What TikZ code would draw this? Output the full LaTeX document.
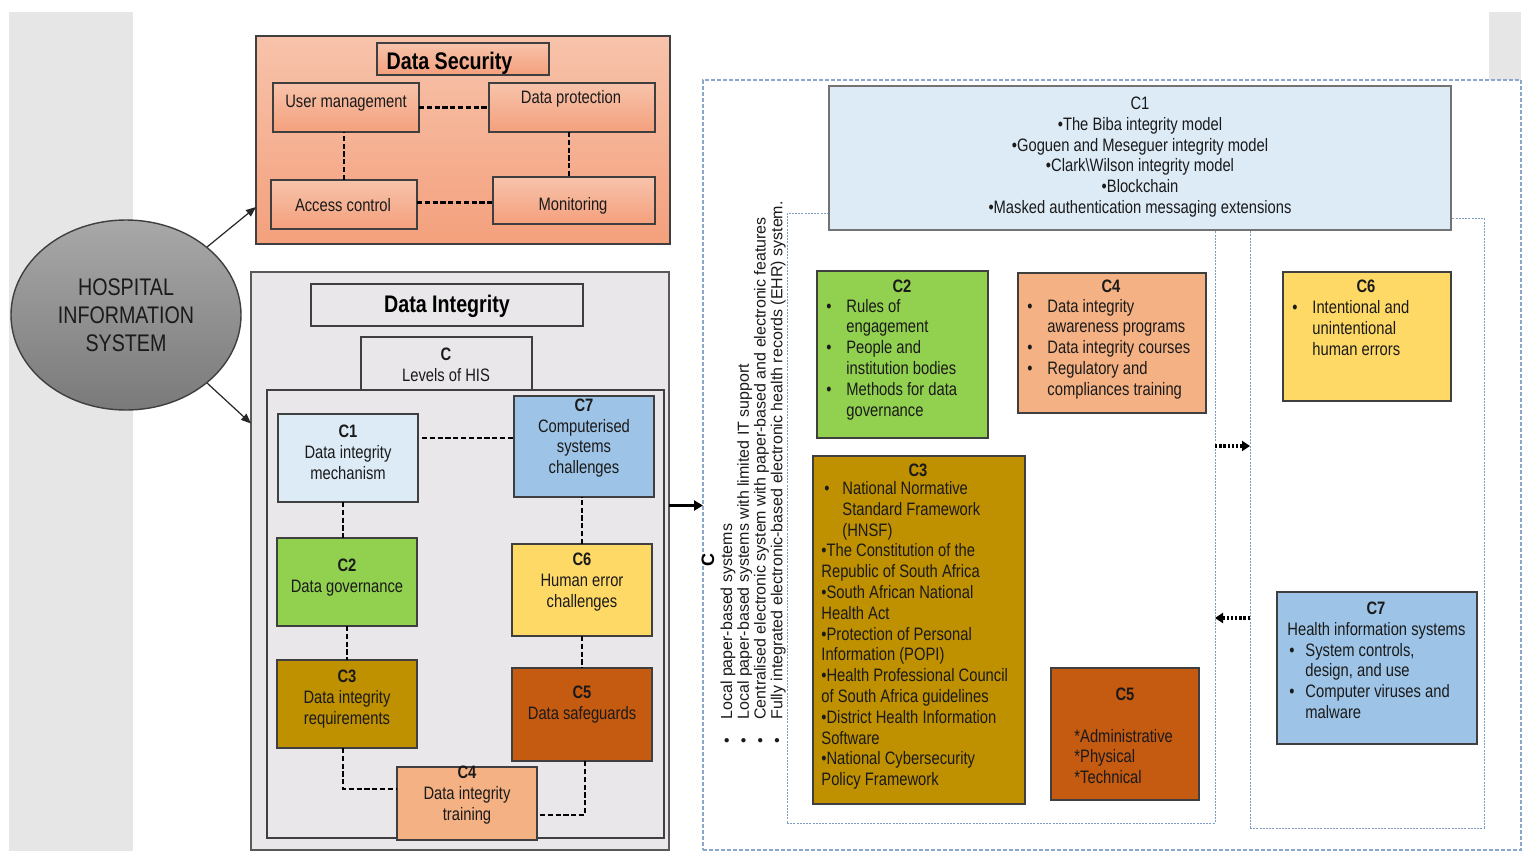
\documentclass[tikz,border=0pt]{standalone}
\usepackage{fontspec}
\setmainfont{Liberation Sans}
\newfontfamily\nar[FakeStretch=0.82]{Liberation Sans}
\usetikzlibrary{fit,arrows.meta,shapes.geometric}
\setlength\parindent{0pt}

\definecolor{stripgray}{HTML}{E6E6E6}
\definecolor{salTop}{HTML}{F7C3AB}
\definecolor{salBot}{HTML}{F4A07C}
\definecolor{digray}{HTML}{E9E7E9}
\definecolor{bdr}{HTML}{3F3F3F}
\definecolor{cPale}{HTML}{DDEBF7}
\definecolor{cBlue}{HTML}{9DC3E6}
\definecolor{cGreen}{HTML}{92D050}
\definecolor{cYellow}{HTML}{FFD966}
\definecolor{cGold}{HTML}{BF9000}
\definecolor{cRust}{HTML}{C55A11}
\definecolor{cPeach}{HTML}{F4B183}
\definecolor{frameblue}{HTML}{7F9DC6}
\definecolor{hisTop}{HTML}{A8A8A8}
\definecolor{hisBot}{HTML}{7A7A7A}
\definecolor{ink}{HTML}{1A1A1A}

\newcommand\blt{\makebox[10pt][l]{•}}
\newcommand\hangsp{\hspace*{10pt}}

\tikzset{
  bx/.style={draw=bdr, line width=0.7pt, inner sep=0pt, outer sep=0pt},
  sal/.style={top color=salTop, bottom color=salBot},
  frm/.style={draw=frameblue, line width=0.5pt, dash pattern=on 1pt off 0.6pt, inner sep=0pt, outer sep=0pt},
  tx/.style={font=\nar\fontsize{9}{10.4}\selectfont, text=ink, inner sep=0pt, align=center, yshift=-1pt},
  hd/.style={font=\nar\bfseries\fontsize{9}{10.4}\selectfont, text=ink, inner sep=0pt, yshift=-0.5pt},
  lst/.style={font=\nar\fontsize{9}{10.4}\selectfont, text=ink, inner sep=0pt, align=left, anchor=west, yshift=-1pt},
  ttl/.style={font=\nar\bfseries\fontsize{12}{14}\selectfont, text=black, inner sep=0pt, yshift=-1.3pt},
  dsh/.style={draw=black, line width=1.1pt, dash pattern=on 2.6pt off 1.3pt},
  thinarr/.style={draw=black!85, line width=0.6pt, -{Triangle[length=5pt,width=4pt]}},
  thickarr/.style={draw=black, line width=1.5pt, -{Triangle[length=4.5pt,width=5pt]}},
  dotarr/.style={draw=black, line width=2pt, dash pattern=on 1.2pt off 0.9pt, -{Triangle[length=4pt,width=5pt]}}
}

\begin{document}
\begin{tikzpicture}[x=0.5pt,y=-0.5pt]
\useasboundingbox (0,0) rectangle (1529,851);
\fill[white] (0,0) rectangle (1529,851);

% side strips
\fill[stripgray] (9,12) rectangle (133,851);
\fill[stripgray] (1489,12) rectangle (1521,80);

% ---------------- Data security ----------------
\node[bx, sal, fit={(256,36) (670,244)}] (ds) {};
\node[bx, sal, fit={(377,43) (549,75)}] (dstitle) {};
\node[ttl] (dstxt) at (449.5,61) {Data Security};
\node[bx, sal, fit={(273,83) (419,132)}] (um) {};
\node[tx] (umt) at (346,101) {User management};
\node[bx, sal, fit={(489,83) (655,132)}] (dp) {};
\node[tx] (dpt) at (571,97) {Data protection};
\node[bx, sal, fit={(271,180) (417,229)}] (ac) {};
\node[tx] (act) at (343,203) {Access control};
\node[bx, sal, fit={(493,177) (655,224)}] (mon) {};
\node[tx] (mont) at (573,204) {Monitoring};

\draw[dsh] (um.east) -- (dp.west);
\draw[dsh] (ac.north) -- (ac.north |- um.south);
\coordinate (dpb) at ([xshift=-1.5pt]dp.south);
\draw[dsh] (dpb) -- (dpb |- mon.north);
\coordinate (acr) at ([yshift=1pt]ac.east);
\draw[dsh] (acr) -- (acr -| mon.west);

% ---------------- Hospital information system ----------------
\node[ellipse, draw=bdr, line width=0.7pt, top color=hisTop, bottom color=hisBot,
      minimum width=115pt, minimum height=95pt, inner sep=0pt, align=center,
      font=\nar\fontsize{12}{13.9}\selectfont, text=ink] (his) at (126,315)
      {HOSPITAL\\INFORMATION\\SYSTEM};

% ---------------- Data integrity ----------------
\node[bx, draw=black!65, fill=digray, fit={(251,272) (669,850)}] (di) {};
\node[bx, fill=digray, fit={(311,284) (583,326)}] (dititle) {};
\node[ttl] (ditxt) at (447,304) {Data Integrity};
\node[bx, fit={(267,390) (664,838)}] (dif) {};
\node[bx, fill=digray, fit={(361,337) (532,390)}] (lev) {};
\node[tx] (levt) at (446,363) {\textbf{C}\\Levels of HIS};

\node[bx, fill=cPale, fit={(278,414) (418,502)}] (c1l) {};
\node[tx] (c1lt) at (348,450) {\textbf{C1}\\Data integrity\\mechanism};
\node[bx, fill=cBlue, fit={(514,396) (654,497)}] (c7l) {};
\node[tx] (c7lt) at (584,436) {\textbf{C7}\\Computerised\\systems\\challenges};
\node[bx, fill=cGreen, fit={(277,538) (417,626)}] (c2l) {};
\node[tx] (c2lt) at (347,575.5) {\textbf{C2}\\Data governance};
\node[bx, fill=cYellow, fit={(512,544) (652,636)}] (c6l) {};
\node[tx] (c6lt) at (582,580) {\textbf{C6}\\Human error\\challenges};
\node[bx, fill=cGold, fit={(277,660) (417,748)}] (c3l) {};
\node[tx] (c3lt) at (347,697) {\textbf{C3}\\Data integrity\\requirements};
\node[bx, fill=cRust, fit={(512,668) (652,761)}] (c5l) {};
\node[tx] (c5lt) at (582,702.5) {\textbf{C5}\\Data safeguards};
\node[bx, fill=cPeach, fit={(397,767) (537,840)}] (c4l) {};
\node[tx] (c4lt) at (467,793) {\textbf{C4}\\Data integrity\\training};

\coordinate (c17) at ([yshift=10pt,xshift=2pt]c1l.east);
\draw[dsh] (c17) -- (c17 -| c7l.west);
\coordinate (c12) at ([xshift=-2.5pt]c1l.south);
\draw[dsh] (c12) -- (c12 |- c2l.north);
\draw[dsh] (c6l.north) -- (c6l.north |- c7l.south);
\draw[dsh] (c2l.south) -- (c3l.north);
\draw[dsh] (c6l.south) -- (c6l.south |- c5l.north);
\coordinate (c34) at ([xshift=-2pt]c3l.south);
\draw[dsh] (c34) |- ([yshift=7.25pt]c4l.west);
\draw[dsh] ([yshift=-5.75pt,xshift=1.5pt]c4l.east) -| ([xshift=1.5pt]c5l.south);

% arrows out of the hospital information system
\draw[thinarr] (his.40) -- ([yshift=-33.5pt]ds.west);
\draw[thinarr] (his.-40) -- ([yshift=68.75pt]di.west);

% ---------------- Levels of HIS detail ----------------
\node[frm, draw=frameblue!90, line width=0.8pt, dash pattern=on 2pt off 1pt, fit={(703,80) (1521,850)}] (outer) {};
\node[frm, fit={(787,213) (1215,823)}] (boxa) {};
\node[frm, fit={(1250,218) (1484,828)}] (boxb) {};

\coordinate (diout) at ([yshift=27.75pt]di.east);
\draw[thickarr] (diout) -- (diout -| outer.west);

\node[rotate=90, font=\bfseries\fontsize{9}{10}\selectfont, inner sep=0pt] (lc) at (708,560) {C};
\node[rotate=90, anchor=north west, inner sep=0pt, align=left,
      font=\fontsize{8}{8.4}\selectfont, text=ink] (lv) at (720,744)
  {\makebox[12pt][l]{•}Local paper-based systems\\
   \makebox[12pt][l]{•}Local paper-based systems with limited IT support\\
   \makebox[12pt][l]{•}Centralised electronic system with paper-based and electronic features\\
   \makebox[12pt][l]{•}Fully integrated electronic-based electronic health records (EHR) system.};

\node[bx, draw=black!55, fill=cPale, fit={(829,86) (1451,230)}] (c1r) {};
\node[tx] (c1rt) at (1140,155) {C1\\•The Biba integrity model\\•Goguen and Meseguer integrity model\\•Clark\textbackslash Wilson integrity model\\•Blockchain\\•Masked authentication messaging extensions};

\node[bx, fill=cGreen, fit={(817,271) (988,438)}] (c2r) {};
\node[hd] (c2rh) at (902,285) {C2};
\node[lst] (c2rl) at (826,357.5) {\blt Rules of\\ \hangsp engagement\\ \blt People and\\ \hangsp institution bodies\\ \blt Methods for data\\ \hangsp governance};

\node[bx, fill=cPeach, fit={(1018,273) (1206,413)}] (c4r) {};
\node[hd] (c4rh) at (1111,285) {C4};
\node[lst] (c4rl) at (1027,347) {\blt Data integrity\\ \hangsp awareness programs\\ \blt Data integrity courses\\ \blt Regulatory and\\ \hangsp compliances training};

\node[bx, fill=cYellow, fit={(1283,272) (1451,401)}] (c6r) {};
\node[hd] (c6rh) at (1366,285) {C6};
\node[lst] (c6rl) at (1292,326) {\blt Intentional and\\ \hangsp unintentional\\ \hangsp human errors};

\node[bx, fill=cGold, fit={(813,456) (1025,804)}] (c3r) {};
\node[hd] (c3rh) at (918,469) {C3};
\node[lst] (c3rl) at (821,633.5) {\hspace*{1.5pt}\makebox[9pt][l]{•}National Normative\\ \hspace*{10.5pt}Standard Framework\\ \hspace*{10.5pt}(HNSF)\\
  •The Constitution of the\\ Republic of South Africa\\ •South African National\\ Health Act\\ •Protection of Personal\\ Information (POPI)\\
  •Health Professional Council\\ of South Africa guidelines\\ •District Health Information\\ Software\\ •National Cybersecurity\\ Policy Framework};

\node[bx, fill=cRust, fit={(1051,668) (1199,800)}] (c5r) {};
\node[hd] (c5rh) at (1125,693) {C5};
\node[lst] (c5rl) at (1074,754.5) {*Administrative\\{}*Physical\\{}*Technical};

\node[bx, fill=cBlue, fit={(1277,592) (1477,744)}] (c7r) {};
\node[hd] (c7rh) at (1376,607) {C7};
\node[lst] (c7rl) at (1287,668.5) {Health information systems\\ \hspace*{1pt}\makebox[8pt][l]{•}System controls,\\ \hspace*{9pt}design, and use\\ \hspace*{1pt}\makebox[8pt][l]{•}Computer viruses and\\ \hspace*{9pt}malware};

% dotted links between the two groups
\coordinate (dab) at ([yshift=36pt]boxa.east);
\draw[dotarr] (dab) -- (dab -| boxb.west);
\coordinate (dba) at ([yshift=-47.5pt]boxb.west);
\draw[dotarr] (dba) -- (dba -| boxa.east);
\end{tikzpicture}
\end{document}
